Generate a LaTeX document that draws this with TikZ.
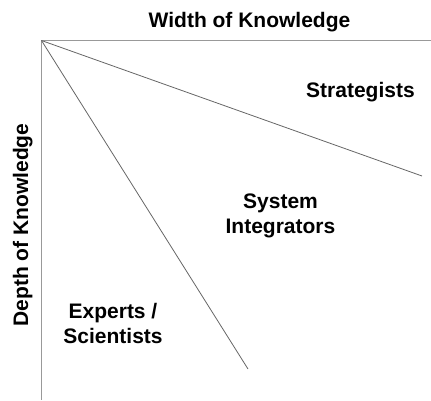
\documentclass[tikz,border=0pt]{standalone}
\usepackage{fontspec}
\setmainfont{Liberation Sans}
\usetikzlibrary{positioning}

\tikzset{
  axis/.style={draw=black!40, line width=1.3pt},
  split/.style={draw=black!60, line width=0.8pt},
  lbl/.style={font=\fontsize{21}{25}\selectfont\bfseries, align=center, inner sep=0pt},
}

\begin{document}
\begin{tikzpicture}[x=1pt, y=-1pt]
\useasboundingbox (0,0) rectangle (431,400);
%axes
\coordinate (o) at (41.5,40.5);
\coordinate (xend) at (431,40.5);
\coordinate (yend) at (41.5,400);
\coordinate (s1) at (422,176);
\coordinate (s2) at (248,369);
\draw[axis] (xend) -- (o) -- (yend);
\draw[split] (o) -- (s1);
\draw[split] (o) -- (s2);
%labels
\node[lbl, anchor=base] (width) at (249.5,27) {Width of Knowledge};
\node[lbl, anchor=base, rotate=90] (depth) at (28,225) {Depth of Knowledge};
\node[lbl, anchor=base] (strat) at (360.5,97) {Strategists};
\node[lbl, anchor=base] (integ) at (280.5,233) {System\\Integrators};
\node[lbl, anchor=base] (expert) at (113,343) {Experts /\\Scientists};
\end{tikzpicture}
\end{document}
